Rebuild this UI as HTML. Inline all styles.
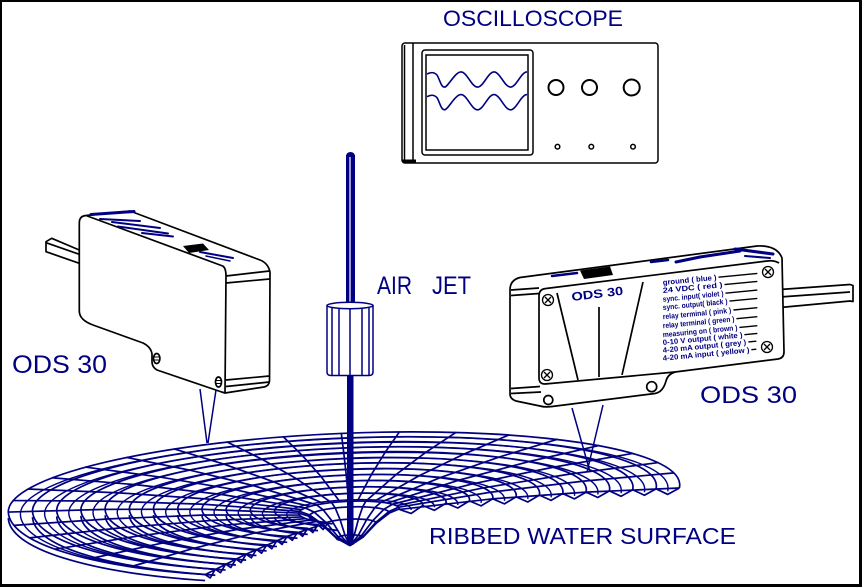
<!DOCTYPE html>
<html><head><meta charset="utf-8">
<style>
html,body{margin:0;padding:0;background:#fff;}
svg{display:block;}
text{font-family:"Liberation Sans",sans-serif;}
</style></head>
<body>
<svg width="862" height="587" viewBox="0 0 862 587" xmlns="http://www.w3.org/2000/svg">
<rect x="0" y="0" width="862" height="587" fill="#fff"/>

<!-- OSCILLOSCOPE -->
<text x="443" y="26" font-size="22" fill="#000080" textLength="180" lengthAdjust="spacingAndGlyphs">OSCILLOSCOPE</text>
<g fill="none" stroke="#000" stroke-width="1.5">
  <rect x="402" y="43" width="256" height="120" rx="3"/>
  <line x1="404.5" y1="45" x2="404.5" y2="161"/>
  <line x1="413" y1="43" x2="413" y2="161"/>
  <line x1="402" y1="161" x2="416" y2="161" stroke-width="3"/>
  <rect x="422" y="50" width="111" height="105" rx="3"/>
  <rect x="426" y="55" width="102" height="95"/>
  <circle cx="556" cy="87.5" r="7.5" stroke-width="2"/>
  <circle cx="589.5" cy="87.5" r="7.5" stroke-width="2"/>
  <circle cx="631.7" cy="87.5" r="8" stroke-width="2"/>
  <circle cx="557.5" cy="146.7" r="2.3"/>
  <circle cx="591.3" cy="146.7" r="2.3"/>
  <circle cx="633" cy="146.7" r="2.3"/>
</g>
<g fill="none" stroke="#000080" stroke-width="1.6">
  <path d="M427,74 C431,71.9 434,71.9 437,75 C440,80 441,87.1 444.5,87.1 S455,71.9 461,71.9 S471.5,87.1 477.5,87.1 S488,71.9 494,71.9 S504.5,87.1 510.5,87.1 S521,71.9 527,71.9"/>
  <path d="M427,96.7 C431,94.6 434,94.6 437,97.7 C440,102.7 441,109.8 444.5,109.8 S455,94.6 461,94.6 S471.5,109.8 477.5,109.8 S488,94.6 494,94.6 S504.5,109.8 510.5,109.8 S521,94.6 527,94.6"/>
</g>

<!-- LEFT SENSOR -->
<g fill="#fff" stroke="#000" stroke-width="1.7" stroke-linejoin="round">
  <path d="M79.3,250 L51.7,238.3 L46,241.7 L46,251.7 L79.3,263.3 Z"/>
  <path d="M46,242.7 L79.3,254.3" fill="none"/>
  <path d="M79.3,223 Q79.3,216 86,215.5 L130,211 L260,260 Q268,263 270,272 L269.5,381 Q269,386 264,387 L225,393 L221.7,392 L157,370 Q152,367 152,362 L152,354 Q151,347 143,343 L93,325 Q79.3,320 79.3,311 Z"/>
  <path d="M86,215.5 L222.7,266 Q226,268 226,276 L225,393" fill="none"/>
  <path d="M226,276 L269.5,271 M226,283 L269.5,279 M226,380 L269.5,376 M226,386.5 L269.5,382" fill="none"/>
  <ellipse cx="156.7" cy="358.5" rx="3.2" ry="5"/>
  <path d="M154,357 L159.5,357 M154,360 L159.5,360" fill="none" stroke-width="1"/>
  <ellipse cx="218.5" cy="382" rx="3" ry="5"/>
  <path d="M216,380.5 L221,380.5 M216,383.5 L221,383.5" fill="none" stroke-width="1"/>
</g>
<g stroke="#000080" fill="none" stroke-linecap="round">
  <path d="M91,214.5 L134,211.5" stroke-width="3"/>
  <path d="M100,219 L140,221" stroke-width="2"/>
  <path d="M112,222 L160,228" stroke-width="2"/>
  <path d="M118,226.5 L168,233.5" stroke-width="2"/>
  <path d="M142,233 L173,236.5" stroke-width="2"/>
  <path d="M200,252 L233,258" stroke-width="2"/>
  <path d="M206,256 L230,261" stroke-width="1.5"/>
</g>
<polygon points="183,246 203,243.5 209,250 189,253" fill="#000"/>
<text x="12" y="373" font-size="25" fill="#000080" textLength="95" lengthAdjust="spacingAndGlyphs">ODS 30</text>

<!-- RIGHT SENSOR -->
<g fill="#fff" stroke="#000" stroke-width="1.7" stroke-linejoin="round">
  <path d="M780,289.5 L850,284.5 L853,285.5 L853,301.5 L850,301 L780,307.5 Z"/>
  <path d="M780,297 L850,292" fill="none"/>
  <path d="M510,290 Q510,280 520,277.5 L757,246 Q777,245 782,258 L784,352 Q784,358 778,359 L675,372 Q668,374 666,381 Q663,392 655,393.5 L552,406.5 Q545,407.5 540,406 L516,401 Q510,399 510,394 Z"/>
  <path d="M539,296 Q539,289 546,288.5 L767,261 Q774,260 779,263" fill="none"/>
  <path d="M539,296 L539,378 Q539,384 545,384 L675,372" fill="none"/>
  <path d="M511,290 L539,288 M511,295.5 L539,293.5 M511,388.5 L540,386.5 M511,393.5 L541,392" fill="none"/>
  <path d="M557,293 L578,380 M599,307 L599,377 M643,282 L622,375" fill="none"/>
  <circle cx="548.3" cy="400" r="4.5"/>
  <circle cx="651.7" cy="386.7" r="5"/>
  <g stroke-width="1.3">
    <circle cx="548" cy="300" r="5.5"/><path d="M545,297 L551,303 M551,297 L545,303"/>
    <circle cx="768" cy="272" r="5.5"/><path d="M765,269 L771,275 M771,269 L765,275"/>
    <circle cx="767" cy="347" r="5.5"/><path d="M764,344 L770,350 M770,344 L764,350"/>
    <circle cx="547" cy="375" r="5.5"/><path d="M544,372 L550,378 M550,372 L544,378"/>
  </g>
</g>
<polygon points="580,270.5 610,266.5 613,275 584,279" fill="#000"/>
<g stroke="#000080" fill="none" stroke-linecap="round">
  <path d="M552,276 L577,273" stroke-width="2.5"/>
  <path d="M651,262 L668,260" stroke-width="2.5"/>
  <path d="M676,262 L700,257" stroke-width="3"/>
  <path d="M700,257 L740,251" stroke-width="3"/>
  <path d="M735,249 L773,254" stroke-width="3"/>
  <path d="M745,256 L770,258" stroke-width="2"/>
</g>
<text x="572" y="301" font-size="12" font-weight="bold" fill="#000080" transform="rotate(-7 572 301)" textLength="52" lengthAdjust="spacingAndGlyphs">ODS 30</text>

<g fill="#000080" font-size="7.5" font-weight="bold">
  <g transform="rotate(-5.5 663 285)"><text x="663" y="285" textLength="54" lengthAdjust="spacingAndGlyphs">ground    ( blue )</text><line x1="719" y1="282.5" x2="758" y2="282.5" stroke="#000" stroke-width="1.4"/></g>
  <g transform="rotate(-5.5 663 293)"><text x="663" y="293" textLength="60" lengthAdjust="spacingAndGlyphs">24 VDC      ( red )</text><line x1="725" y1="290.5" x2="758" y2="290.5" stroke="#000" stroke-width="1.4"/></g>
  <g transform="rotate(-5.5 663 301.7)"><text x="663" y="301.7" textLength="61" lengthAdjust="spacingAndGlyphs">sync. input( violet )</text><line x1="726" y1="299.2" x2="758" y2="299.2" stroke="#000" stroke-width="1.4"/></g>
  <g transform="rotate(-5.5 663 310)"><text x="663" y="310" textLength="65" lengthAdjust="spacingAndGlyphs">sync. output( black )</text><line x1="730" y1="307.5" x2="758" y2="307.5" stroke="#000" stroke-width="1.4"/></g>
  <g transform="rotate(-5.5 663 319.3)"><text x="663" y="319.3" textLength="68.7" lengthAdjust="spacingAndGlyphs">relay terminal ( pink )</text><line x1="734" y1="316.8" x2="758" y2="316.8" stroke="#000" stroke-width="1.4"/></g>
  <g transform="rotate(-5.5 663 328.3)"><text x="663" y="328.3" textLength="72" lengthAdjust="spacingAndGlyphs">relay terminal ( green )</text><line x1="737" y1="325.8" x2="758" y2="325.8" stroke="#000" stroke-width="1.4"/></g>
  <g transform="rotate(-5.5 663 337.3)"><text x="663" y="337.3" textLength="75" lengthAdjust="spacingAndGlyphs">measuring on  ( brown )</text><line x1="740" y1="334.8" x2="758" y2="334.8" stroke="#000" stroke-width="1.4"/></g>
  <g transform="rotate(-5.5 663 345)"><text x="663" y="345" textLength="80" lengthAdjust="spacingAndGlyphs">0-10 V output  ( white )</text><line x1="745" y1="342.5" x2="758" y2="342.5" stroke="#000" stroke-width="1.4"/></g>
  <g transform="rotate(-5.5 663 352.7)"><text x="663" y="352.7" textLength="83.7" lengthAdjust="spacingAndGlyphs">4-20 mA output  ( grey )</text><line x1="749" y1="350.2" x2="757" y2="350.2" stroke="#000" stroke-width="1.4"/></g>
  <g transform="rotate(-5.5 663 360.7)"><text x="663" y="360.7" textLength="87" lengthAdjust="spacingAndGlyphs">4-20 mA input  ( yellow )</text><line x1="752" y1="358.2" x2="757" y2="358.2" stroke="#000" stroke-width="1.4"/></g>
</g>
<text x="700" y="403" font-size="24.5" fill="#000080" textLength="97" lengthAdjust="spacingAndGlyphs">ODS 30</text>

<!-- WATER SURFACE -->
<g fill="none" stroke="#000080" stroke-width="1.7" stroke-linejoin="round">
  <!-- rings -->
  <path d="M399.41,509.46 A50.4,11.7 -2.4 0 0 399.46,508.85 A50.4,9.75 -2.4 0 0 298.74,513.07 A50.4,11.7 -2.4 0 0 328.26,522.45"/>
  <path d="M422.74,505.51 A74.19,17.22 -2.4 0 0 422.80,504.60 A74.19,14.35 -2.4 0 0 274.56,510.82 A74.19,17.22 -2.4 0 0 318.01,524.62"/>
  <path d="M446.09,503.12 A98.01,22.75 -2.4 0 0 446.17,501.93 A98.01,18.96 -2.4 0 0 250.33,510.13 A98.01,22.75 -2.4 0 0 307.73,528.37"/>
  <path d="M469.42,500.89 A121.8,28.28 -2.4 0 0 469.52,499.40 A121.8,23.56 -2.4 0 0 226.14,509.60 A121.8,28.28 -2.4 0 0 297.48,532.26"/>
  <path d="M492.73,498.82 A145.59,33.8 -2.4 0 0 492.86,497.04 A145.59,28.16 -2.4 0 0 201.94,509.24 A145.59,33.8 -2.4 0 0 287.21,536.32"/>
  <path d="M516.08,496.90 A169.41,39.33 -2.4 0 0 516.23,494.84 A169.41,32.77 -2.4 0 0 177.71,509.02 A169.41,39.33 -2.4 0 0 276.94,540.54"/>
  <path d="M539.41,495.16 A193.2,44.85 -2.4 0 0 539.58,492.80 A193.2,37.38 -2.4 0 0 153.52,508.98 A193.2,44.85 -2.4 0 0 266.68,544.92"/>
  <path d="M562.74,493.57 A216.99,50.37 -2.4 0 0 562.92,490.92 A216.99,41.98 -2.4 0 0 129.34,509.10 A216.99,50.37 -2.4 0 0 256.43,549.47"/>
  <path d="M586.09,492.13 A240.81,55.9 -2.4 0 0 586.30,489.20 A240.81,46.59 -2.4 0 0 105.10,509.36 A240.81,55.9 -2.4 0 0 246.15,554.16"/>
  <path d="M609.41,490.87 A264.6,61.43 -2.4 0 0 609.64,487.64 A264.6,51.19 -2.4 0 0 80.92,509.80 A264.6,61.43 -2.4 0 0 235.90,559.03"/>
  <path d="M632.73,489.76 A288.39,66.95 -2.4 0 0 632.98,486.24 A288.39,55.79 -2.4 0 0 56.72,510.40 A288.39,66.95 -2.4 0 0 225.63,564.05"/>
  <path d="M656.08,488.82 A312.21,72.48 -2.4 0 0 656.35,485.01 A312.21,60.40 -2.4 0 0 32.49,511.15 A312.21,72.48 -2.4 0 0 215.35,569.24"/>
  <path d="M679.41,488.03 A336,78 -2.4 0 0 679.7,483.93 A336,65 -2.4 0 0 8.3,512.07 A336,78 -2.4 0 0 205.1,574.58"/>
  <!-- intermediate ripple rings -->
  <g stroke-width="1.4">
  <path d="M411.08,510.04 A62.29,14.46 -2.4 0 0 411.13,509.28 A62.29,12.05 -2.4 0 0 286.65,514.50 A62.29,14.46 -2.4 0 0 323.14,526.09"/>
  <path d="M434.43,507.29 A86.12,19.99 -2.4 0 0 434.50,506.24 A86.12,16.66 -2.4 0 0 262.42,513.46 A86.12,19.99 -2.4 0 0 312.86,529.48"/>
  <path d="M457.75,504.98 A109.91,25.51 -2.4 0 0 457.85,503.64 A109.91,21.26 -2.4 0 0 238.23,512.84 A109.91,25.51 -2.4 0 0 302.61,533.29"/>
  <path d="M481.07,502.83 A133.69,31.04 -2.4 0 0 481.19,501.20 A133.69,25.86 -2.4 0 0 214.03,512.40 A133.69,31.04 -2.4 0 0 292.34,537.27"/>
  <path d="M504.43,500.84 A157.52,36.57 -2.4 0 0 504.57,498.91 A157.52,30.47 -2.4 0 0 189.81,512.11 A157.52,36.57 -2.4 0 0 282.07,541.41"/>
  <path d="M527.75,499.01 A181.31,42.09 -2.4 0 0 527.90,496.80 A181.31,35.07 -2.4 0 0 165.62,511.98 A181.31,42.09 -2.4 0 0 271.81,545.71"/>
  <path d="M551.08,497.34 A205.09,47.61 -2.4 0 0 551.25,494.84 A205.09,39.68 -2.4 0 0 141.43,512.02 A205.09,47.61 -2.4 0 0 261.55,550.17"/>
  <path d="M574.42,495.84 A228.92,53.14 -2.4 0 0 574.62,493.04 A228.92,44.28 -2.4 0 0 117.20,512.22 A228.92,53.14 -2.4 0 0 251.28,554.80"/>
  <path d="M597.75,494.48 A252.71,58.66 -2.4 0 0 597.97,491.40 A252.71,48.89 -2.4 0 0 93.01,512.56 A252.71,58.66 -2.4 0 0 241.02,559.58"/>
  <path d="M621.07,493.30 A276.49,64.19 -2.4 0 0 621.31,489.92 A276.49,53.49 -2.4 0 0 68.81,513.08 A276.49,64.19 -2.4 0 0 230.76,564.52"/>
  <path d="M644.43,492.27 A300.32,69.72 -2.4 0 0 644.69,488.60 A300.32,58.10 -2.4 0 0 44.59,513.76 A300.32,69.72 -2.4 0 0 220.49,569.63"/>
  <path d="M667.74,491.40 A324.11,75.24 -2.4 0 0 668.04,487.45 A324.11,62.70 -2.4 0 0 20.38,514.59 A324.11,75.24 -2.4 0 0 210.23,574.89"/>
  </g>
  <!-- funnel rings -->
  <path d="M389.53,513.40 A40.32,9.36 -2.4 0 0 389.56,512.91 A40.32,7.8 -2.4 0 0 309.00,516.29 A40.32,9.36 -2.4 0 0 332.61,523.79"/>
  <path d="M376.35,523.50 A26.88,6.24 -2.4 0 0 376.38,523.17 A26.88,5.2 -2.4 0 0 322.66,525.43 A26.88,6.24 -2.4 0 0 338.41,530.43"/>
  <path d="M363.18,537.20 A13.44,3.12 -2.4 0 0 363.19,537.04 A13.44,2.6 -2.4 0 0 336.33,538.16 A13.44,3.12 -2.4 0 0 344.20,540.66"/>
  <!-- ripple faces front-left -->
  <g transform="translate(0,6)">
    <path d="M274.56,510.82 A74.19,17.22 -2.4 0 0 318.01,524.62"/>
    <path d="M250.33,510.13 A98.01,22.75 -2.4 0 0 307.73,528.37"/>
    <path d="M226.14,509.60 A121.8,28.28 -2.4 0 0 297.48,532.26"/>
    <path d="M201.94,509.24 A145.59,33.8 -2.4 0 0 287.21,536.32"/>
    <path d="M177.71,509.02 A169.41,39.33 -2.4 0 0 276.94,540.54"/>
    <path d="M153.52,508.98 A193.2,44.85 -2.4 0 0 266.68,544.92"/>
    <path d="M129.34,509.10 A216.99,50.37 -2.4 0 0 256.43,549.47"/>
    <path d="M105.10,509.36 A240.81,55.9 -2.4 0 0 246.15,554.16"/>
    <path d="M80.92,509.80 A264.6,61.43 -2.4 0 0 235.90,559.03"/>
    <path d="M56.72,510.40 A288.39,66.95 -2.4 0 0 225.63,564.05"/>
    <path d="M32.49,511.15 A312.21,72.48 -2.4 0 0 215.35,569.24"/>
    <path d="M8.3,512.07 A336,78 -2.4 0 0 205.1,574.58"/>
  </g>
  <!-- spokes -->
  <path d="M398.62,507.19 L490.45,492.25 L582.31,481.26 L674.14,472.86"/>
  <path d="M396.28,505.65 L483.69,487.79 L571.12,473.89 L658.53,462.57"/>
  <path d="M392.51,504.26 L472.78,483.79 L553.09,467.27 L633.37,453.34"/>
  <path d="M387.41,503.08 L458.07,480.38 L528.75,461.64 L599.41,445.48"/>
  <path d="M381.16,502.14 L440.00,477.66 L498.86,457.14 L557.70,439.20"/>
  <path d="M373.92,501.47 L419.11,475.72 L464.31,453.93 L509.49,434.72"/>
  <path d="M365.94,501.08 L396.04,474.61 L426.16,452.09 L456.26,432.16"/>
  <path d="M357.44,501.00 L371.50,474.37 L385.56,451.70 L399.62,431.61"/>
  <path d="M348.69,501.22 L346.22,475.00 L343.75,452.74 L341.28,433.06"/>
  <path d="M339.95,501.73 L320.98,476.49 L302.00,455.20 L283.02,436.49"/>
  <path d="M331.49,502.53 L296.54,478.78 L261.57,458.99 L226.62,441.78"/>
  <path d="M323.57,503.58 L273.65,481.82 L223.71,464.02 L173.79,448.80"/>
  <path d="M316.42,504.85 L252.99,485.50 L189.55,470.11 L126.12,457.30"/>
  <path d="M310.26,506.32 L235.21,489.72 L160.14,477.09 L85.09,467.04"/>
  <path d="M305.29,507.92 L220.84,494.35 L136.36,484.75 L51.91,477.72"/>
  <path d="M301.64,509.61 L210.31,499.24 L118.94,492.84 L27.61,489.01"/>
  <path d="M299.44,511.35 L203.94,504.26 L108.42,501.13 L12.92,500.58"/>
  <path d="M298.74,513.07 L201.94,509.24 L105.10,509.36 L8.3,512.07"/>
  <path d="M299.59,515.07 L204.39,515.01 L109.16,518.91 L13.96,525.39"/>
  <path d="M301.95,516.94 L211.20,520.42 L120.41,527.86 L29.66,537.88"/>
  <path d="M305.73,518.63 L222.13,525.31 L138.50,535.95 L54.90,549.16"/>
  <path d="M310.84,520.09 L236.88,529.52 L162.90,542.91 L88.94,558.88"/>
  <path d="M317.11,521.27 L254.98,532.93 L192.84,548.55 L130.71,566.75"/>
  <!-- boundary edges -->
  <path d="M399.41,509.46 L492.73,498.82 L586.09,492.13 L679.41,488.03"/>
  <path d="M399.41,509.46 L411.08,513.49 L422.74,505.51 L434.42,510.32 L446.09,503.12 L457.76,508.01 L469.42,500.89 L481.08,505.86 L492.73,498.82 L504.41,503.86 L516.08,496.90 L527.75,502.03 L539.41,495.16 L551.08,500.37 L562.74,493.57 L574.42,498.85 L586.09,492.13 L597.75,497.50 L609.41,490.87 L621.07,496.32 L632.73,489.76 L644.41,495.29 L656.08,488.82 L667.75,494.43 L679.41,488.03"/>
  <path d="M328.26,522.45 L287.21,536.32 L246.15,554.16 L205.1,574.58"/>
  <path d="M328.26,522.45 L323.14,529.54 L318.01,524.62 L312.87,532.50 L307.73,528.37 L302.61,536.32 L297.48,532.26 L292.35,540.29 L287.21,536.32 L282.08,544.43 L276.94,540.54 L271.81,548.73 L266.68,544.92 L261.56,553.20 L256.43,549.47 L251.29,557.82 L246.15,554.16 L241.03,562.60 L235.90,559.03 L230.77,567.54 L225.63,564.05 L220.49,572.65 L215.35,569.24 L210.23,577.91 L205.1,574.58"/>
  <!-- funnel spokes -->
  <path d="M399.46,508.85 L389.56,512.91 L376.38,523.17 L363.19,537.04 L350,545.6"/>
  <path d="M398.62,507.19 L388.90,511.58 L375.93,522.29 L362.97,536.59 L350,545.6"/>
  <path d="M392.51,504.26 L384.00,509.24 L372.67,520.73 L361.33,535.81 L350,545.6"/>
  <path d="M381.16,502.14 L374.92,507.54 L366.62,519.60 L358.31,535.25 L350,545.6"/>
  <path d="M365.94,501.08 L362.75,506.70 L358.50,519.03 L354.25,534.97 L350,545.6"/>
  <path d="M348.69,501.22 L348.95,506.81 L349.30,519.10 L349.65,535.00 L350,545.6"/>
  <path d="M331.49,502.53 L335.19,507.85 L340.13,519.80 L345.06,535.35 L350,545.6"/>
  <path d="M316.42,504.85 L323.13,509.72 L332.09,521.04 L341.04,535.97 L350,545.6"/>
  <path d="M305.29,507.92 L314.23,512.17 L326.15,522.68 L338.08,536.79 L350,545.6"/>
  <path d="M299.44,511.35 L309.55,514.91 L323.03,524.51 L336.52,537.70 L350,545.6"/>
  <path d="M298.74,513.07 L309.00,516.29 L322.66,525.43 L336.33,538.16 L350,545.6"/>
</g>

<!-- beams -->
<g stroke="#000080" stroke-width="1.5" fill="none">
  <path d="M200,389 L207,443 M216,390 L208,443"/>
  <path d="M572,408 L590,472 M603,405 L587,472"/>
</g>

<!-- AIR JET -->
<rect x="346" y="155" width="9" height="152" fill="#000080"/>
<path d="M346,157 Q346,152 350.5,152 Q355,152 355,157 Z" fill="#000080"/>
<line x1="350" y1="157" x2="350" y2="305" stroke="#fff" stroke-width="1.2"/>
<rect x="347" y="374" width="6.5" height="171" fill="#000080"/>
<g fill="#fff" stroke="#000080" stroke-width="1.5">
  <path d="M327,305.5 L327,372 Q327,375.5 331,375.5 L369,375.5 Q373,375.5 373,372 L373,305.5 Z"/>
  <ellipse cx="350" cy="305.5" rx="23" ry="3.2"/>
  <path d="M332,308 L332,375 M339,308.5 L339,375 M350,309 L350,375 M362,308.5 L362,375 M369,308 L369,375" fill="none"/>
</g>
<text x="377" y="294" font-size="25" fill="#000080" textLength="35" lengthAdjust="spacingAndGlyphs">AIR</text>
<text x="432" y="294" font-size="25" fill="#000080" textLength="39" lengthAdjust="spacingAndGlyphs">JET</text>

<text x="429" y="544" font-size="23.5" fill="#000080" textLength="307" lengthAdjust="spacingAndGlyphs">RIBBED WATER SURFACE</text>

<!-- border -->
<rect x="0" y="0" width="862" height="2" fill="#000"/>
<rect x="0" y="0" width="2" height="587" fill="#000"/>
<rect x="859" y="0" width="3" height="587" fill="#000"/>
<rect x="0" y="584" width="862" height="3" fill="#000"/>
</svg>
</body></html>
